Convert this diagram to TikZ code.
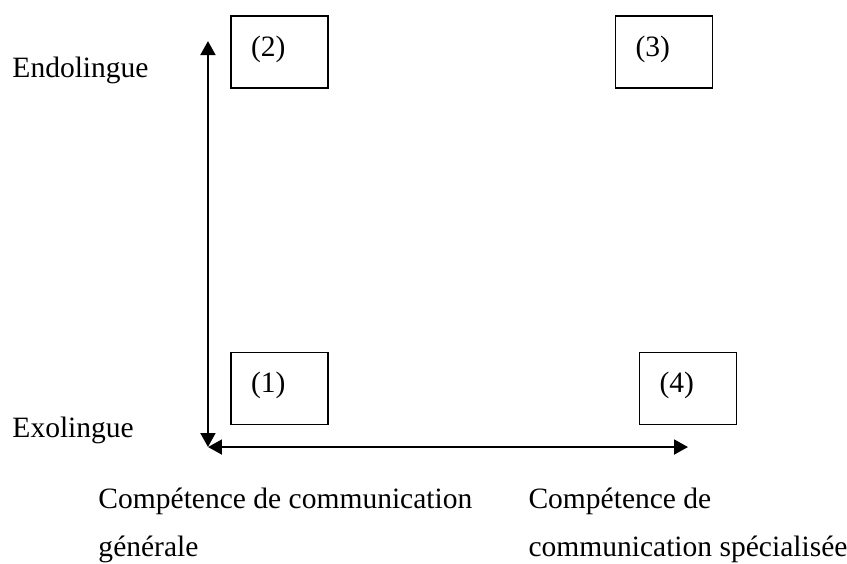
\documentclass[tikz,border=0pt]{standalone}
\usepackage{fontspec}
\setmainfont{Liberation Serif}
\usetikzlibrary{arrows.meta}
\tikzset{
  axe/.style={line width=1.1pt, {Triangle[length=0.2cm,width=0.21cm]}-{Triangle[length=0.2cm,width=0.21cm]}},
  cadre/.style={draw, line width=0.7pt, rectangle, minimum width=1.386cm, minimum height=1.029cm,
    inner xsep=0.286cm, inner ysep=0pt, text width=0.814cm, align=left, text height=0.28cm, text depth=0.16cm},
  etiq/.style={inner sep=0pt, anchor=base west, align=left}
}

\begin{document}
\begin{tikzpicture}[font=\fontsize{12}{19.8}\selectfont]
\useasboundingbox (0,0) rectangle (12.1,8.057);
%\draw[step=0.5cm,gray,very thin] (0,0) grid (12,8); %background grid
\coordinate (O) at (2.971,1.671);
\coordinate (haut) at (2.971,7.471);
\coordinate (droite) at (9.829,1.671);
\draw[axe] (haut) -- (O);
\draw[axe] (O) -- (droite);
\node[cadre] (c1) at (3.993,2.507) {(1)};
\node[cadre] (c2) at (3.993,7.314) {(2)};
\node[cadre] (c3) at (9.486,7.314) {(3)};
\node[cadre] (c4) at (9.829,2.507) {(4)};
\node[etiq] (endo) at (0.171,6.943) {Endolingue};
\node[etiq] (exo) at (0.171,1.804) {Exolingue};
% base = baseline of the last line
\node[etiq] (gen) at (1.4,0.1) {Compétence de communication\\générale};
\node[etiq] (spec) at (7.543,0.1) {Compétence de\\communication spécialisée};
\end{tikzpicture}
\end{document}
